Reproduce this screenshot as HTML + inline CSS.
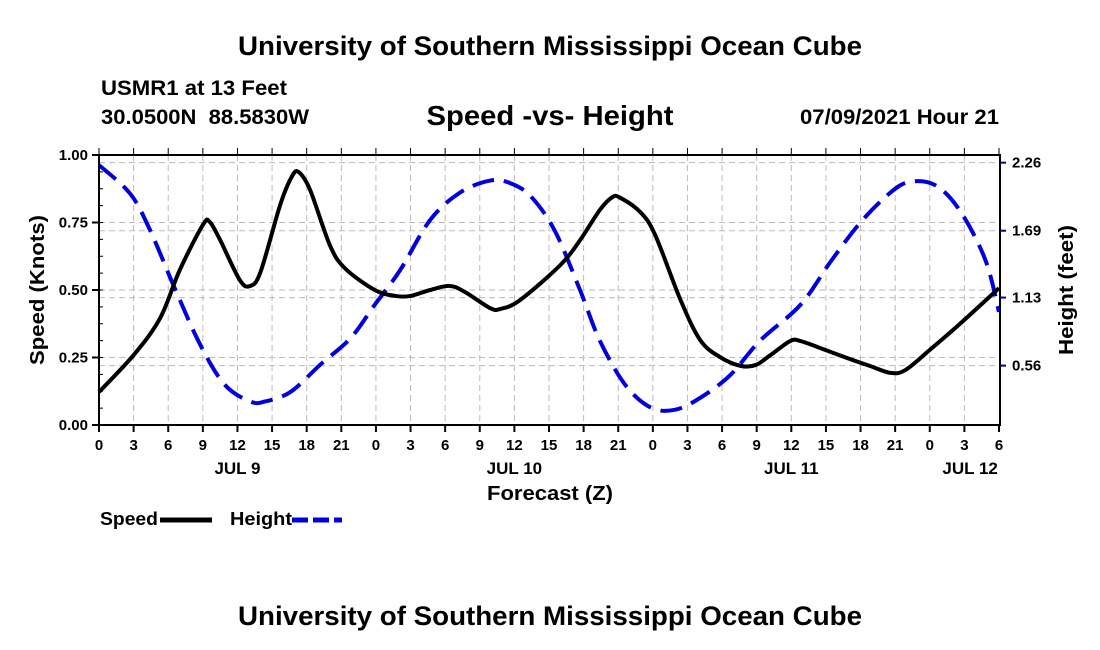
<!DOCTYPE html>
<html><head><meta charset="utf-8"><style>
body{margin:0;background:#fff;}
svg{display:block;font-family:"Liberation Sans",Arial,sans-serif;font-weight:bold;}
</style></head><body>
<svg id="chart" width="1100" height="650" viewBox="0 0 1100 650">
<text x="550" y="55" font-size="27" text-anchor="middle" textLength="624" lengthAdjust="spacingAndGlyphs">University of Southern Mississippi Ocean Cube</text>
<text x="101" y="95" font-size="21" textLength="186" lengthAdjust="spacingAndGlyphs">USMR1 at 13 Feet</text>
<text x="101" y="124" font-size="21" textLength="208" lengthAdjust="spacingAndGlyphs" xml:space="preserve">30.0500N  88.5830W</text>
<text x="550" y="125" font-size="28" text-anchor="middle" textLength="247" lengthAdjust="spacingAndGlyphs">Speed -vs- Height</text>
<text x="999" y="124" font-size="21" text-anchor="end" textLength="199" lengthAdjust="spacingAndGlyphs">07/09/2021 Hour 21</text>
<g id="grid"></g>
<g id="series"></g>
<rect x="99" y="155" width="901" height="270" fill="none" stroke="#000" stroke-width="2"/>
<g id="axes"></g>
<text transform="translate(44,290) rotate(-90)" font-size="20" text-anchor="middle" textLength="150" lengthAdjust="spacingAndGlyphs">Speed (Knots)</text>
<text transform="translate(1073,290) rotate(-90)" font-size="20" text-anchor="middle" textLength="130" lengthAdjust="spacingAndGlyphs">Height (feet)</text>
<text x="550" y="500" font-size="20" text-anchor="middle" textLength="126" lengthAdjust="spacingAndGlyphs">Forecast (Z)</text>
<g>
<text x="100" y="525" font-size="18" textLength="58" lengthAdjust="spacingAndGlyphs">Speed</text>
<line x1="160" y1="520" x2="212" y2="520" stroke="#000" stroke-width="5"/>
<text x="230" y="525" font-size="18" textLength="62" lengthAdjust="spacingAndGlyphs">Height</text>
<line x1="292" y1="520" x2="342" y2="520" stroke="#0000dd" stroke-width="5" stroke-dasharray="16,5"/>
</g>
<text x="550" y="625" font-size="27" text-anchor="middle" textLength="624" lengthAdjust="spacingAndGlyphs">University of Southern Mississippi Ocean Cube</text>
</svg>
<script>
const speedHours=[0,3,5.3,7,9,9.6,10.5,12.2,13.1,14,15.7,16.7,17.3,18.3,20,21.3,23.9,25.7,27,28.7,30.4,31.7,33.9,34.8,36.5,40,41.7,43.4,44.5,45.2,46.9,48.2,50.4,52.1,53.8,55.6,56.9,58.2,59.9,60.8,62.5,65.1,66.8,68.6,69.9,72,74.6,78];
const speedValues=[0.122,0.259,0.396,0.574,0.741,0.752,0.685,0.537,0.515,0.567,0.815,0.919,0.937,0.87,0.667,0.581,0.5,0.478,0.478,0.5,0.515,0.493,0.433,0.43,0.463,0.593,0.685,0.796,0.844,0.841,0.789,0.704,0.463,0.315,0.252,0.219,0.222,0.259,0.311,0.311,0.285,0.244,0.219,0.193,0.204,0.278,0.374,0.507];
const heightHours=[0,2.7,4.4,6.6,8.8,10.9,13.1,14.4,16.6,19.2,21.8,23.9,26.1,28.7,31.3,33.9,35.6,37.4,39.5,41.7,43.4,45.6,47.8,49.9,52.1,54.7,57.3,60.8,63.4,66,68.6,70.3,72.5,74.6,76.8,78];
const heightValues=[2.24,2.0,1.7,1.2,0.73,0.4,0.26,0.26,0.34,0.57,0.79,1.07,1.36,1.78,2.01,2.11,2.09,1.98,1.69,1.19,0.77,0.4,0.21,0.19,0.29,0.48,0.77,1.07,1.43,1.76,2.01,2.1,2.07,1.86,1.45,1.01];
const speedTicks=[0,0.25,0.5,0.75,1.0];
const heightTicks=[0.56,1.13,1.69,2.26];
const dayLabels=["JUL 9","JUL 10","JUL 11","JUL 12"];
const dayLabelHours=[12,36,60,75.5];

const X0=99,X1=999,HMAX=78;
function xs(h){return X0+h*(X1-X0)/HMAX;}
function ys(v){return 425-v*270;}
function yh(f){return 432.5-f*119.4;}
const NS="http://www.w3.org/2000/svg";
function mk(tag,attrs,parent){const e=document.createElementNS(NS,tag);for(const k in attrs)e.setAttribute(k,attrs[k]);parent.appendChild(e);return e;}
const grid=document.getElementById('grid'),axes=document.getElementById('axes'),series=document.getElementById('series');
for(let h=3;h<HMAX;h+=3){
  const g=mk('line',{x1:xs(h),x2:xs(h),y1:155,y2:425,stroke:'#bbb','stroke-width':1,'stroke-dasharray':'6,4'},grid);
  
  
}
speedTicks.forEach(v=>{
  if(v>0&&v<1){const g=mk('line',{x1:99,x2:1000,y1:ys(v),y2:ys(v),stroke:'#bbb','stroke-width':1,'stroke-dasharray':'6,4'},grid);
  
  }
  const t=mk('line',{x1:92,x2:99,y1:ys(v),y2:ys(v),stroke:'#000','stroke-width':2},axes);
  
  
  const l=mk('text',{x:88,y:ys(v)+5,'font-size':15,'text-anchor':'end'},axes);l.textContent=v.toFixed(2);
  
  
});
for(let v=0.0625;v<1;v+=0.0625){const t=mk('line',{x1:99,x2:103,y1:ys(v),y2:ys(v),stroke:'#000','stroke-width':1},axes);
  
  }
heightTicks.forEach(v=>{
  const g=mk('line',{x1:99,x2:1000,y1:yh(v),y2:yh(v),stroke:'#bbb','stroke-width':1,'stroke-dasharray':'6,4'},grid);
  
  
  const t=mk('line',{x1:1000,x2:1006,y1:yh(v),y2:yh(v),stroke:'#00008b','stroke-width':2},axes);
  
  
  const l=mk('text',{x:1012,y:yh(v)+5,'font-size':15},axes);l.textContent=v.toFixed(2);
  
  
});
for(let h=0;h<=HMAX;h+=3){
  const t=mk('line',{x1:xs(h),x2:xs(h),y1:425,y2:432,stroke:'#000','stroke-width':2},axes);
  
  
  const t2=mk('line',{x1:xs(h),x2:xs(h),y1:148,y2:155,stroke:'#000','stroke-width':1},axes);
  
  
  const l=mk('text',{x:xs(h),y:450,'font-size':15,'text-anchor':'middle'},axes);l.textContent=String(h%24);
  
  
}
dayLabels.forEach((d,i)=>{const l=mk('text',{x:xs(dayLabelHours[i]),y:474,'font-size':17,'text-anchor':'middle'},axes);l.textContent=d;
  
  });
function smooth(pts){let d='M'+pts[0][0]+','+pts[0][1];
  for(let i=0;i<pts.length-1;i++){const p0=pts[i-1]||pts[i],p1=pts[i],p2=pts[i+1],p3=pts[i+2]||p2;
    const c1=[p1[0]+(p2[0]-p0[0])/6,p1[1]+(p2[1]-p0[1])/6],c2=[p2[0]-(p3[0]-p1[0])/6,p2[1]-(p3[1]-p1[1])/6];
    d+=' C'+c1.join(',')+' '+c2.join(',')+' '+p2.join(',');}
  return d;}
const hp=mk('path',{d:smooth(heightHours.map((h,i)=>[xs(h),yh(heightValues[i])])),fill:'none',stroke:'#0000dd','stroke-width':4,'stroke-dasharray':'22,10'},series);


const sp=mk('path',{d:smooth(speedHours.map((h,i)=>[xs(h),ys(speedValues[i])])),fill:'none',stroke:'#000','stroke-width':4},series);


</script>
</body></html>
